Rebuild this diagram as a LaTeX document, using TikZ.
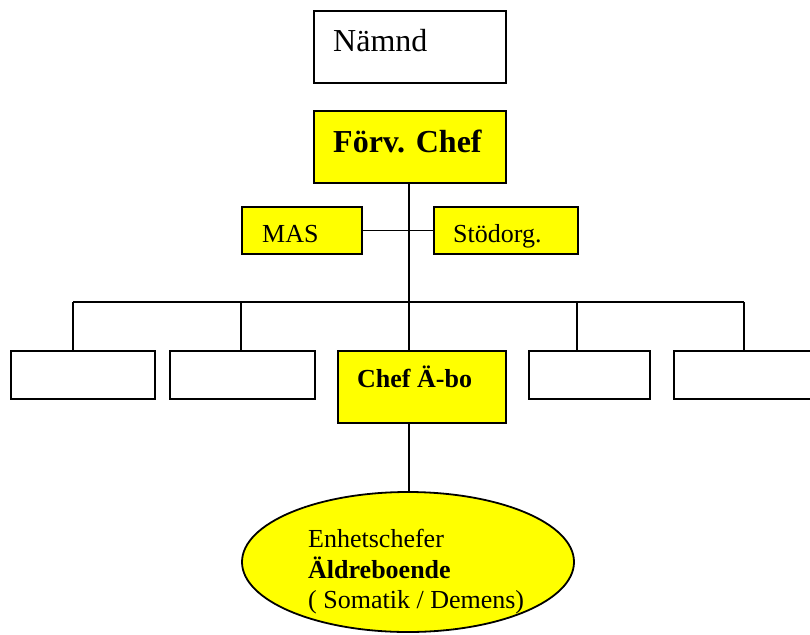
\documentclass[tikz,border=0pt]{standalone}
\usepackage{fontspec}
\setmainfont{Liberation Serif}
\usetikzlibrary{shapes.geometric}
\definecolor{hl}{HTML}{FFFF00}
\begin{document}
\begin{tikzpicture}[x=1pt,y=-1pt,
  orgbox/.style={draw, line width=1.8pt, inner sep=0pt, anchor=north west},
  yel/.style={orgbox, fill=hl},
  lbl/.style={anchor=base west, inner sep=0pt},
  big/.style={font=\fontsize{32}{38}\selectfont},
  mid/.style={font=\fontsize{26}{31}\selectfont},
  conn/.style={line width=1.5pt}]
\useasboundingbox (0,0) rectangle (810,634);
\clip (0,0) rectangle (810,634);
% boxes
\node[orgbox, minimum width=192pt, minimum height=72pt] (namnd) at (313,10) {};
\node[yel, minimum width=192pt, minimum height=72pt] (forv) at (313,110) {};
\node[yel, minimum width=120pt, minimum height=47pt] (mas) at (241,206) {};
\node[yel, minimum width=144pt, minimum height=47pt] (stod) at (433,206) {};
\node[orgbox, minimum width=144pt, minimum height=48pt] (b1) at (10,350) {};
\node[orgbox, minimum width=145pt, minimum height=48pt] (b2) at (169,350) {};
\node[yel, minimum width=168pt, minimum height=72pt] (chef) at (337,350) {};
\node[orgbox, minimum width=121pt, minimum height=48pt] (b4) at (528,350) {};
\node[orgbox, minimum width=160pt, minimum height=48pt] (b5) at (673,350) {};
\node[ellipse, draw, line width=1.8pt, fill=hl, inner sep=0pt, minimum width=332pt, minimum height=140pt] (ell) at (408,562) {};
% texts
\node[lbl, big] (tnamnd) at (333,52) {Nämnd};
\node[lbl, big] (tforv) at (333,152) {\textbf{Förv. Chef}};
\node[lbl, mid] (tmas) at (262,242) {MAS};
\node[lbl, mid] (tstod) at (453,242) {Stödorg.};
\node[lbl, mid] (tchef) at (357,387) {\textbf{Chef Ä-bo}};
\node[lbl, mid] (te1) at (308,547) {Enhetschefer};
\node[lbl, mid] (te2) at (308,578) {\textbf{Äldreboende}};
\node[lbl, mid] (te3) at (308,608) {( Somatik / Demens)};
% connectors
\coordinate (j1) at (73,302);
\coordinate (j2) at (241,302);
\coordinate (j3) at (409,302);
\coordinate (j4) at (577,302);
\coordinate (j5) at (744,302);
\draw[conn] (forv.south -| j3) -- (j3 |- chef.north);
\draw[conn] (mas.east) -- (stod.west);
\draw[conn] (j1) -- (j5);
\draw[conn] (j1) -- (j1 |- b1.north);
\draw[conn] (j2) -- (j2 |- b2.north);
\draw[conn] (j4) -- (j4 |- b4.north);
\draw[conn] (j5) -- (j5 |- b5.north);
\draw[conn] (chef.south -| j3) -- (ell.north -| j3);
\end{tikzpicture}
\end{document}
